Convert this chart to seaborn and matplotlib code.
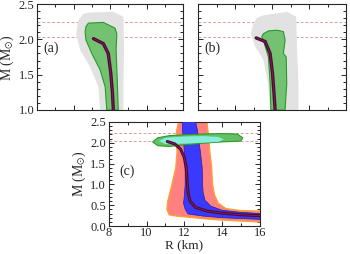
import numpy as np
import seaborn as sns
import matplotlib.pyplot as plt
from matplotlib.ticker import MultipleLocator

# ---- data (R in km, M in Msun) ----
mass_lo, mass_hi = 2.04, 2.24

# panel (a)
a_curve_R = [11.09, 11.63, 11.90, 12.04, 12.13, 12.18]
a_curve_M = [2.01, 1.94, 1.80, 1.52, 1.24, 1.00]
a_green_R = [10.68, 10.81, 11.63, 12.27, 12.37, 12.33, 12.40, 12.45, 11.82, 11.73, 11.45, 11.00, 10.68, 10.63]
a_green_M = [2.18, 2.23, 2.24, 2.16, 2.08, 1.85, 1.38, 1.00, 1.00, 1.33, 1.57, 1.80, 1.99, 2.11]
a_gray_R = [10.90, 12.18, 12.73, 12.77, 12.73, 12.73, 11.45, 11.36, 10.90, 10.36, 10.14, 10.26, 10.54]
a_gray_M = [2.38, 2.39, 2.32, 1.85, 1.38, 1.00, 1.00, 1.33, 1.61, 1.85, 2.08, 2.27, 2.36]

# panel (b)
b_curve_R = [11.14, 11.62, 11.89, 12.02, 12.10, 12.16]
b_curve_M = [2.02, 1.97, 1.80, 1.52, 1.24, 1.00]
b_green_R = [11.53, 11.80, 12.25, 12.61, 12.70, 12.61, 12.76, 12.79, 12.70, 11.93, 11.89, 11.80, 11.58, 11.44]
b_green_M = [2.08, 2.12, 2.13, 2.11, 1.99, 1.80, 1.75, 1.38, 1.00, 1.00, 1.38, 1.75, 1.94, 2.04]
b_gray_R = [11.53, 12.79, 13.30, 13.35, 13.42, 13.42, 11.89, 11.78, 11.53, 11.08, 10.85, 10.99, 11.20]
b_gray_M = [2.34, 2.39, 2.32, 1.85, 1.38, 1.00, 1.00, 1.38, 1.71, 1.90, 2.08, 2.23, 2.31]

# panel (c)
c_curve_R = [11.10, 11.50, 11.80, 12.00, 12.10, 12.15, 12.20, 12.30, 12.60, 13.20, 14.00, 15.00, 16.00]
c_curve_M = [2.03, 1.97, 1.85, 1.65, 1.40, 1.10, 0.80, 0.60, 0.45, 0.36, 0.31, 0.27, 0.25]
c_red_R = [11.70, 11.60, 11.55, 11.62, 11.55, 11.35, 11.13, 11.08, 11.20, 11.60, 12.50, 13.50, 14.60, 16.00,
           16.00, 15.00, 14.20, 13.80, 13.60, 13.50, 13.45, 13.35, 13.30, 13.25, 13.20]
c_red_M = [2.50, 2.30, 2.10, 1.80, 1.40, 1.00, 0.60, 0.40, 0.27, 0.24, 0.20, 0.16, 0.13, 0.10,
           0.36, 0.37, 0.42, 0.55, 0.75, 1.00, 1.40, 1.80, 2.10, 2.30, 2.50]
c_blue_R = [11.90, 11.90, 11.95, 12.00, 12.05, 12.05, 12.00, 11.96, 12.05, 12.20, 13.00, 14.00, 15.00, 16.00,
            16.00, 15.00, 14.00, 13.40, 13.10, 13.00, 12.97, 12.95, 12.85, 12.75, 12.70, 12.60]
c_blue_M = [2.50, 2.30, 2.10, 1.80, 1.40, 1.00, 0.70, 0.55, 0.40, 0.29, 0.24, 0.20, 0.18, 0.16,
            0.30, 0.33, 0.38, 0.48, 0.62, 0.80, 1.00, 1.40, 1.80, 2.10, 2.30, 2.50]
c_green_R = [10.32, 10.60, 11.20, 12.00, 13.00, 14.00, 14.80, 15.10, 15.00, 14.00, 13.00, 12.00, 11.20, 10.60]
c_green_M = [2.02, 2.12, 2.17, 2.19, 2.21, 2.22, 2.21, 2.12, 2.04, 2.02, 1.99, 1.95, 1.91, 1.93]
c_cyan_R = [10.65, 11.00, 12.00, 13.00, 13.80, 14.10, 13.80, 13.00, 12.00, 11.00]
c_cyan_M = [2.04, 2.12, 2.15, 2.16, 2.14, 2.08, 2.02, 2.00, 1.98, 1.97]

sns.set_style("ticks")
plt.rcParams["font.family"] = ["Liberation Serif", "DejaVu Serif"]
plt.rcParams["mathtext.fontset"] = "stix"

fig = plt.figure(figsize=(3.5, 2.54), dpi=100)
ax_a = fig.add_axes([0.106, 0.567, 0.417, 0.417])
ax_b = fig.add_axes([0.566, 0.567, 0.423, 0.417])
ax_c = fig.add_axes([0.311, 0.11, 0.431, 0.41])

maroon = "#4e0a30"
purple = "#8e1f78"


def style(ax, ylo, yhi, labels_x, labels_y):
    ax.set_xlim(8, 16)
    ax.set_ylim(ylo, yhi)
    ax.xaxis.set_major_locator(MultipleLocator(2))
    ax.xaxis.set_minor_locator(MultipleLocator(1))
    ax.yaxis.set_major_locator(MultipleLocator(0.5))
    ax.yaxis.set_minor_locator(MultipleLocator(0.1))
    ax.tick_params(which="both", direction="in", top=True, right=True, labelsize=9, width=0.7, pad=2)
    ax.tick_params(axis="x", pad=1)
    ax.tick_params(which="major", length=3.5)
    ax.tick_params(which="minor", length=2)
    if not labels_x:
        ax.set_xticklabels([])
    if not labels_y:
        ax.set_yticklabels([])
    for s in ax.spines.values():
        s.set_linewidth(0.8)
    ax.set_xlabel("")
    ax.set_ylabel("")


def dashes(ax):
    for m in (mass_lo, mass_hi):
        ax.axhline(m, color="#d8a0a0", lw=0.7, ls=(0, (3, 2)), zorder=1)


# (a) and (b)
for ax, gR, gM, grR, grM, cR, cM, lab, ly in [
    (ax_a, a_green_R, a_green_M, a_gray_R, a_gray_M, a_curve_R, a_curve_M, "(a)", 1.87),
    (ax_b, b_green_R, b_green_M, b_gray_R, b_gray_M, b_curve_R, b_curve_M, "(b)", 1.88),
]:
    dashes(ax)
    ax.fill(grR, grM, color="#e2e2e2", lw=0, zorder=2)
    ax.fill(gR, gM, facecolor="#72c272", edgecolor="#2a9a2a", lw=0.8, zorder=3)
    sns.lineplot(x=cR, y=cM, sort=False, ax=ax, color=maroon, lw=2.4, zorder=4)
    sns.lineplot(x=cR, y=cM, sort=False, ax=ax, color=purple, lw=0.5, zorder=5)
    ax.text(8.35, ly, lab, fontsize=10, va="center")

style(ax_a, 1, 2.5, False, True)
style(ax_b, 1, 2.5, False, False)
ax_a.set_ylabel(r"M (M$_{\odot}$)", fontsize=10, labelpad=2)

# (c)
dashes(ax_c)
ax_c.fill(c_red_R, c_red_M, facecolor="#ff8080", edgecolor="#ffa030", lw=1.0, zorder=2)
ax_c.fill(c_blue_R, c_blue_M, facecolor="#3a3aff", edgecolor="#2020a0", lw=0.5, zorder=3)
ax_c.fill(c_green_R, c_green_M, facecolor="#66bf66", edgecolor="#2a9a2a", lw=0.8, zorder=4)
ax_c.fill(c_cyan_R, c_cyan_M, facecolor="#86eedd", edgecolor="none", zorder=5)
sns.lineplot(x=c_curve_R, y=c_curve_M, sort=False, ax=ax_c, color=maroon, lw=2.2, zorder=6)
sns.lineplot(x=c_curve_R, y=c_curve_M, sort=False, ax=ax_c, color=purple, lw=0.5, zorder=7)
ax_c.text(8.55, 1.32, "(c)", fontsize=10, va="center")
style(ax_c, 0, 2.5, True, True)
ax_c.set_xlabel("R (km)", fontsize=9.5, labelpad=0)
ax_c.set_ylabel(r"M (M$_{\odot}$)", fontsize=10, labelpad=2)

fig.savefig("out.png", dpi=100)
